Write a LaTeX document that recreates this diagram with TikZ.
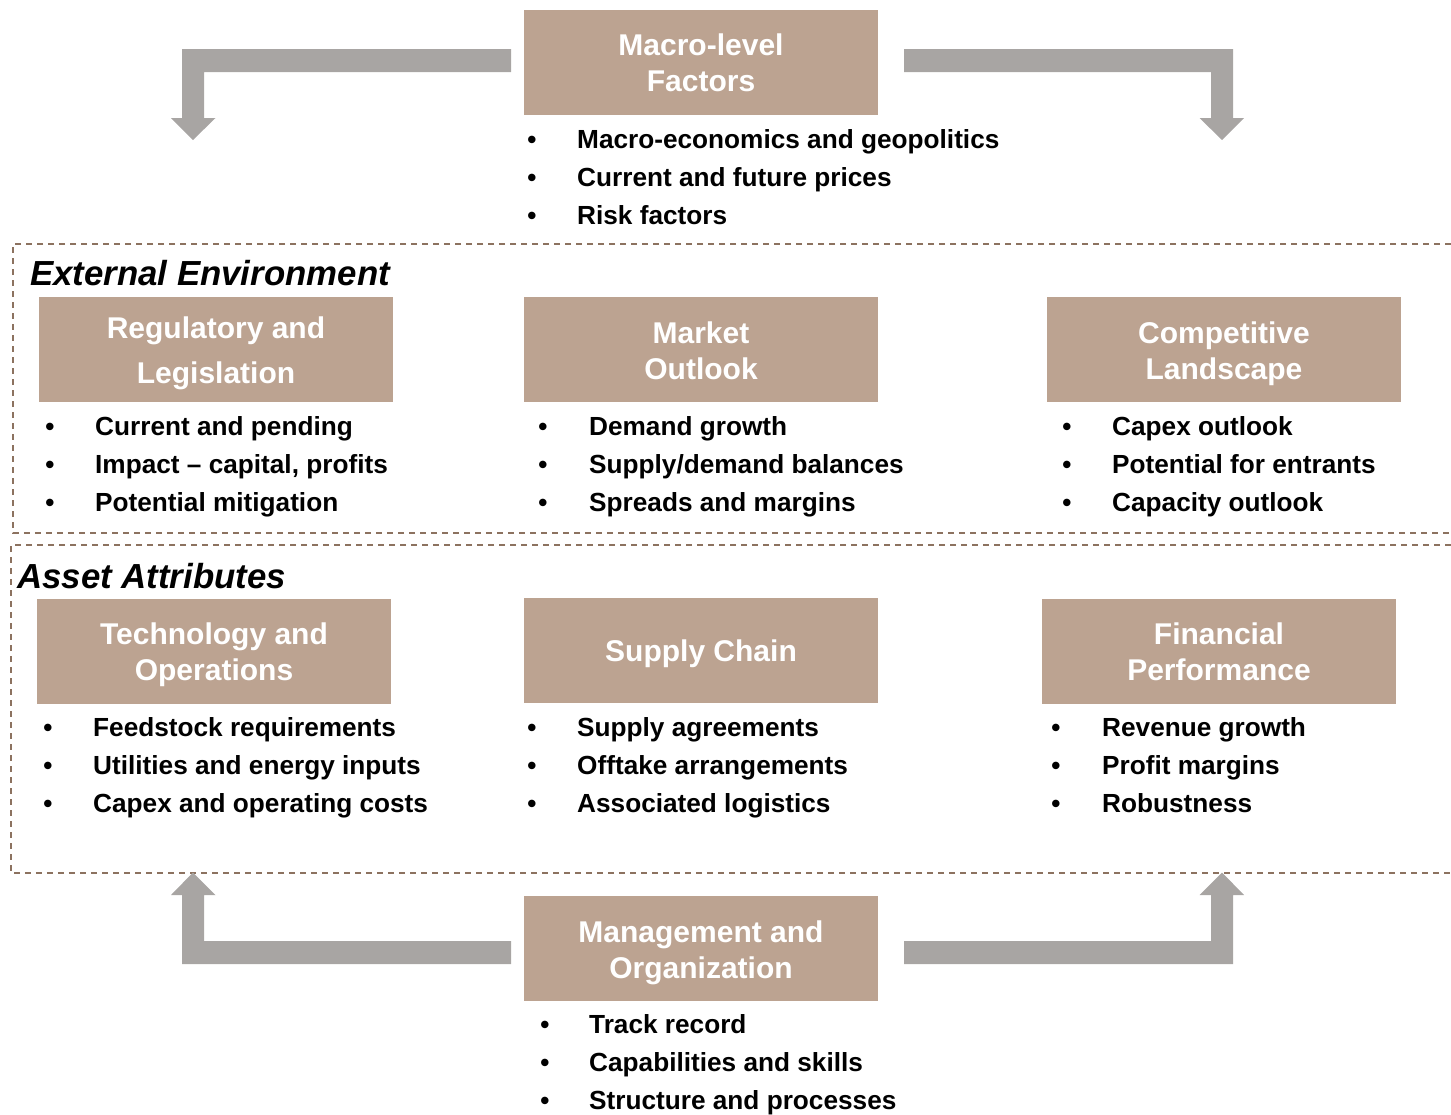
\documentclass[tikz,border=0pt]{standalone}
\usepackage{fontspec}
\setmainfont{Liberation Sans}
\usetikzlibrary{calc}

\definecolor{boxtan}{RGB}{188,163,145}
\definecolor{arrowgray}{RGB}{168,165,163}
\definecolor{frameline}{RGB}{140,114,96}

\tikzset{
  panel/.style={fill=boxtan, draw=none, minimum width=354pt, minimum height=105pt,
                inner sep=0pt, outer sep=0pt},
  paneltitle/.style={text=white, font=\fontsize{30}{36}\selectfont\bfseries,
                     align=center, inner sep=0pt, anchor=base},
  bul/.style={font=\fontsize{26}{38}\selectfont\bfseries, inner sep=0pt, anchor=base},
  itemtext/.style={font=\fontsize{26.2}{38}\selectfont\bfseries, inner sep=0pt, anchor=base west},
  sectiontitle/.style={font=\fontsize{34.8}{40}\selectfont\bfseries\itshape, inner sep=0pt,
                       anchor=base west},
  frame/.style={draw=frameline, line width=1.3pt, dash pattern=on 6pt off 5pt},
  bendarrow/.style={fill=arrowgray, draw=none},
}

% three bulleted lines: name, bullet x, text x, first baseline, items
\newcommand\threeitems[7]{%
  \node[bul] (#1b1) at (#2,#4) {•};
  \node[bul] (#1b2) at (#2,#4+38) {•};
  \node[bul] (#1b3) at (#2,#4+76) {•};
  \node[itemtext] (#1i1) at (#3,#4) {#5};
  \node[itemtext] (#1i2) at (#3,#4+38) {#6};
  \node[itemtext] (#1i3) at (#3,#4+76) {#7};
}

\begin{document}
\begin{tikzpicture}[x=1pt, y=-1pt]
\useasboundingbox (0,0) rectangle (1451,1114);

% dashed section frames (open on the right)
\draw[frame] (1451,244) -- (13,244) -- (13,533) -- (1451,533);
\draw[frame] (1451,545) -- (11,545) -- (11,873) -- (1451,873);

\node[sectiontitle] (exttitle) at (30,285) {External Environment};
\node[sectiontitle] (assettitle) at (17,588) {Asset Attributes};

% panels
\node[panel] (macro)  at (701,62.5)   {};
\node[panel] (reg)    at (216,349.5)  {};
\node[panel] (market) at (701,349.5)  {};
\node[panel] (comp)   at (1224,349.5) {};
\node[panel] (tech)   at (214,651.5)  {};
\node[panel] (supply) at (701,650.5)  {};
\node[panel] (fin)    at (1219,651.5) {};
\node[panel] (mgmt)   at (701,948.5)  {};

% panel titles, placed on the baseline of their last line
\node[paneltitle] (macrot)  at (701,91.7)  {Macro-level\\Factors};
\node[paneltitle, font=\fontsize{30}{45}\selectfont\bfseries] (regt) at (216,383.3) {Regulatory and\\Legislation};
\node[paneltitle] (markett) at (701,379.7) {Market\\Outlook};
\node[paneltitle] (compt)   at (1224,379.7) {Competitive\\Landscape};
\node[paneltitle] (techt)   at (214,680) {Technology and\\Operations};
\node[paneltitle] (supplyt) at (701,661.5) {Supply Chain};
\node[paneltitle] (fint)    at (1219,680) {Financial\\Performance};
\node[paneltitle] (mgmtt)   at (701,978.3) {Management and\\Organization};

% bullet lists
\threeitems{mc}{532}{577}{148}{Macro-economics and geopolitics}{Current and future prices}{Risk factors}
\threeitems{rg}{50}{95}{435.5}{Current and pending}{Impact -- capital, profits}{Potential mitigation}
\threeitems{mk}{543}{589}{435.5}{Demand growth}{Supply/demand balances}{Spreads and margins}
\threeitems{cp}{1067}{1112}{435.5}{Capex outlook}{Potential for entrants}{Capacity outlook}
\threeitems{tc}{48}{93}{736}{Feedstock requirements}{Utilities and energy inputs}{Capex and operating costs}
\threeitems{sc}{532}{577}{736}{Supply agreements}{Offtake arrangements}{Associated logistics}
\threeitems{fn}{1056}{1102}{736}{Revenue growth}{Profit margins}{Robustness}
\threeitems{mg}{545}{589}{1033.5}{Track record}{Capabilities and skills}{Structure and processes}

% bent block arrows from the macro panel and from the management panel
\fill[bendarrow] ($(macro.west)+(-13,-13.5)$) -- (182,49) -- (182,118) -- (171,118)
  -- (193,140) -- (215.5,118) -- (204,118) -- (204,72) -- ($(macro.west)+(-13,9.5)$) -- cycle;
\fill[bendarrow] ($(macro.east)+(26,-13.5)$) -- (1233,49) -- (1233,118) -- (1244,118)
  -- (1222,140) -- (1199.5,118) -- (1211,118) -- (1211,72) -- ($(macro.east)+(26,9.5)$) -- cycle;
\fill[bendarrow] ($(mgmt.west)+(-13,15.5)$) -- (182,964) -- (182,895) -- (171,895)
  -- (193,872.5) -- (215.5,895) -- (204,895) -- (204,941) -- ($(mgmt.west)+(-13,-7.5)$) -- cycle;
\fill[bendarrow] ($(mgmt.east)+(26,15.5)$) -- (1233,964) -- (1233,895) -- (1244,895)
  -- (1222,872.5) -- (1199.5,895) -- (1211,895) -- (1211,941) -- ($(mgmt.east)+(26,-7.5)$) -- cycle;
\end{tikzpicture}
\end{document}
